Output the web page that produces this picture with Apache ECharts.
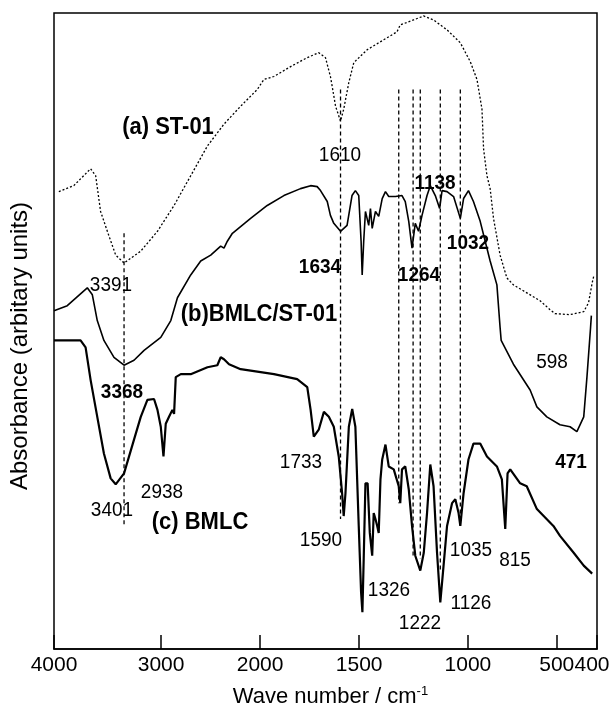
<!DOCTYPE html>
<html>
<head>
<meta charset="utf-8">
<script src="https://cdn.jsdelivr.net/npm/echarts@6/dist/echarts.min.js"></script>
<style>
  html, body { margin: 0; padding: 0; background: #fff; }
  #chart { width: 614px; height: 714px; }
</style>
</head>
<body>
<div id="chart"></div>
<script>
// ---------- DATA ----------
// Tick labels on the wavenumber axis (cm-1)
const tickWavenumbers = [4000, 3000, 2000, 1500, 1000, 500, 400];

// (a) ST-01
const wavenumberA = [3955, 3815, 3658, 3611, 3565, 3502, 3424, 3346, 3190, 3034, 2869, 2701, 2532, 2365, 2197, 2028, 1981, 1930, 1846, 1762, 1704, 1670, 1645, 1636, 1619, 1594, 1578, 1552, 1527, 1463, 1387, 1326, 1311, 1250, 1204, 1158, 1096, 1035, 987, 949, 921, 912, 893, 875, 856, 819, 781, 744, 688, 594, 538, 510, 467, 433, 421, 412, 408];
const absorbanceA = [461, 467, 484, 477, 441, 421, 397, 389, 401, 421, 447, 477, 507, 529, 547, 564, 574, 577, 587, 596, 601, 596, 577, 567, 547, 532, 544, 571, 591, 604, 614, 622, 629, 634, 638, 634, 624, 611, 592, 574, 544, 504, 477, 464, 434, 397, 374, 367, 361, 351, 342, 338, 337, 340, 349, 369, 376];

// (b) BMLC/ST-01
const wavenumberB = [4000, 3876, 3721, 3689, 3642, 3596, 3534, 3440, 3346, 3253, 3159, 3003, 2902, 2835, 2701, 2600, 2499, 2398, 2365, 2331, 2280, 2096, 1964, 1880, 1796, 1745, 1712, 1695, 1661, 1645, 1628, 1594, 1561, 1536, 1519, 1502, 1491, 1486, 1479, 1471, 1463, 1456, 1448, 1440, 1425, 1410, 1394, 1379, 1364, 1333, 1303, 1288, 1272, 1257, 1242, 1227, 1211, 1188, 1173, 1150, 1130, 1119, 1096, 1066, 1035, 1020, 997, 969, 931, 875, 837, 819, 813, 744, 650, 612, 556, 492, 467, 450, 433, 425, 416, 414];
const absorbanceB = [341, 346, 361, 364, 357, 331, 311, 294, 286, 291, 301, 314, 331, 354, 377, 391, 397, 406, 404, 411, 419, 434, 447, 457, 464, 467, 466, 462, 451, 437, 429, 421, 427, 457, 462, 457, 411, 377, 411, 441, 442, 427, 444, 424, 441, 436, 454, 461, 456, 456, 457, 451, 431, 404, 429, 421, 437, 457, 467, 457, 444, 462, 461, 456, 434, 454, 462, 451, 431, 391, 367, 324, 311, 287, 261, 244, 234, 226, 224, 219, 234, 274, 324, 336];

// (c) BMLC
const wavenumberC = [4000, 3752, 3705, 3658, 3596, 3534, 3471, 3424, 3346, 3253, 3190, 3128, 3066, 3034, 3003, 2976, 2953, 2920, 2886, 2869, 2852, 2801, 2701, 2532, 2432, 2398, 2365, 2314, 2197, 1930, 1813, 1762, 1745, 1729, 1704, 1678, 1653, 1628, 1603, 1586, 1578, 1569, 1552, 1535, 1519, 1502, 1491, 1485, 1479, 1471, 1461, 1451, 1440, 1433, 1425, 1417, 1410, 1402, 1394, 1379, 1364, 1341, 1318, 1311, 1303, 1288, 1272, 1257, 1242, 1219, 1203, 1188, 1173, 1158, 1142, 1127, 1112, 1096, 1073, 1058, 1043, 1035, 1020, 997, 969, 931, 893, 837, 809, 790, 777, 762, 706, 669, 612, 519, 492, 458, 433, 412];
const absorbanceC = [311, 311, 304, 271, 234, 197, 172, 166, 177, 211, 234, 251, 252, 241, 224, 194, 227, 234, 241, 237, 274, 277, 277, 284, 286, 294, 292, 287, 282, 277, 272, 264, 241, 214, 221, 239, 234, 224, 194, 157, 134, 157, 224, 242, 224, 124, 57, 37, 91, 167, 167, 117, 94, 137, 131, 124, 117, 171, 191, 206, 184, 181, 164, 147, 181, 184, 161, 124, 94, 79, 97, 137, 186, 164, 97, 47, 84, 124, 147, 151, 137, 124, 157, 191, 207, 207, 194, 184, 171, 121, 177, 181, 167, 164, 141, 124, 114, 97, 84, 76];

// Dashed guide lines (wavenumber, upper and lower end in absorbance units)
const guideWavenumbers = [3346, 1594, 1318, 1252, 1219, 1127, 1035];
const guideTop = [419, 564, 564, 564, 564, 564, 564];
const guideBottom = [124, 131, 147, 94, 91, 77, 124];

// Peak / curve annotations (text)
const annotationTexts = ['(a) ST-01', '1610', '1138', '1032', '1264', '1634', '3391', '(b)BMLC/ST-01', '3368', '1733', '2938', '3401', '(c) BMLC', '1590', '1326', '1222', '1126', '1035', '815', '598', '471'];

// ---------- LAYOUT / STYLE ----------
const FONT = '"Liberation Sans", Arial, Helvetica, sans-serif';
// piecewise axis layout: pixel offsets of tick wavenumbers inside the plot
const axisTickOffsets = [0, 107.3, 206.5, 305.7, 414.7, 503.7, 544];
const AXIS_LEN = 544;
// [x, y, bold, size] for each annotation
const annotationLayout = [
  [168, 127, true, 22], [340, 155, false, 19], [435, 183, true, 19], [468, 243, true, 19],
  [419, 275, true, 19], [320, 267, true, 19], [111, 285, false, 19], [259, 314, true, 22],
  [122, 392, true, 19], [301, 462, false, 19], [162, 492, false, 19], [112, 510, false, 19],
  [200, 522, true, 22], [321, 540, false, 19], [389, 590, false, 19], [420, 623, false, 19],
  [471, 603, false, 19], [471, 550, false, 19], [515, 560, false, 19], [552, 362, false, 19],
  [571, 462, true, 19]
];

function toPos(wn) {
  const w = tickWavenumbers, p = axisTickOffsets;
  for (let i = 0; i < w.length - 1; i++) {
    if (wn <= w[i] && wn >= w[i + 1]) {
      return p[i] + (w[i] - wn) / (w[i] - w[i + 1]) * (p[i + 1] - p[i]);
    }
  }
  return wn > w[0] ? p[0] : p[p.length - 1];
}
function toSeries(wns, vals) { return wns.map((w, i) => [toPos(w), vals[i]]); }

const chart = echarts.init(document.getElementById('chart'), null, { renderer: 'canvas' });

const series = [
  { name: '(a) ST-01', type: 'line', data: toSeries(wavenumberA, absorbanceA), symbol: 'none',
    lineStyle: { color: '#000', width: 1.3, type: [2, 2] }, silent: true, z: 3 },
  { name: '(b) BMLC/ST-01', type: 'line', data: toSeries(wavenumberB, absorbanceB), symbol: 'none',
    lineStyle: { color: '#000', width: 1.6 }, silent: true, z: 3 },
  { name: '(c) BMLC', type: 'line', data: toSeries(wavenumberC, absorbanceC), symbol: 'none',
    lineStyle: { color: '#000', width: 2.2 }, silent: true, z: 3 }
];
guideWavenumbers.forEach((wn, i) => {
  series.push({
    type: 'line', symbol: 'none', silent: true, z: 2,
    data: [[toPos(wn), guideTop[i]], [toPos(wn), guideBottom[i]]],
    lineStyle: { color: '#000', width: 1.3, type: [4, 3] }
  });
});

const graphics = annotationTexts.map((t, i) => {
  const L = annotationLayout[i];
  return {
    type: 'text', x: L[0], y: L[1], z: 10, silent: true, scaleY: 1.1,
    style: {
      text: t, fill: '#000', fontFamily: FONT, fontSize: L[3],
      fontWeight: L[2] ? 'bold' : 'normal',
      textAlign: 'center', textVerticalAlign: 'middle', align: 'center', verticalAlign: 'middle'
    }
  };
});

chart.setOption({
  animation: false,
  backgroundColor: '#fff',
  grid: { left: 53, right: 17, top: 13, bottom: 60, show: true, borderColor: '#000', borderWidth: 1.5, containLabel: false },
  xAxis: {
    type: 'value', min: 0, max: AXIS_LEN,
    name: 'Wave number / cm{sup|-1}', nameLocation: 'middle', nameGap: 36,
    nameTextStyle: { color: '#000', fontFamily: FONT, fontSize: 22, lineHeight: 24, padding: [0, 0, 0, 10],
      rich: { sup: { fontSize: 13, fontFamily: FONT, color: '#000', verticalAlign: 'top', lineHeight: 24 } } },
    axisLine: { show: true, lineStyle: { color: '#000', width: 1.5 } },
    axisTick: { show: true, inside: true, length: 14, customValues: axisTickOffsets, lineStyle: { color: '#000', width: 1.5 } },
    axisLabel: {
      show: true, customValues: axisTickOffsets, margin: 6, color: '#000', fontFamily: FONT, fontSize: 21,
      hideOverlap: false,
      formatter: function (v) {
        let idx = 0, best = 1e9;
        axisTickOffsets.forEach((p, i) => { if (Math.abs(p - v) < best) { best = Math.abs(p - v); idx = i; } });
        const lab = String(tickWavenumbers[idx]);
        return idx === tickWavenumbers.length - 1 ? '{r|' + lab + '}' : lab;
      },
      rich: { r: { fontSize: 21, fontFamily: FONT, color: '#000', padding: [0, 10, 0, 0] } }
    },
    splitLine: { show: false }
  },
  yAxis: {
    type: 'value', min: 0, max: 641,
    name: 'Absorbance (arbitary units)', nameLocation: 'middle', nameGap: 22, nameRotate: 90,
    nameTextStyle: { color: '#000', fontFamily: FONT, fontSize: 24, padding: [0, 30, 0, 0] },
    axisLine: { show: false }, axisTick: { show: false }, axisLabel: { show: false }, splitLine: { show: false }
  },
  series: series,
  graphic: graphics
});
</script>
</body>
</html>
